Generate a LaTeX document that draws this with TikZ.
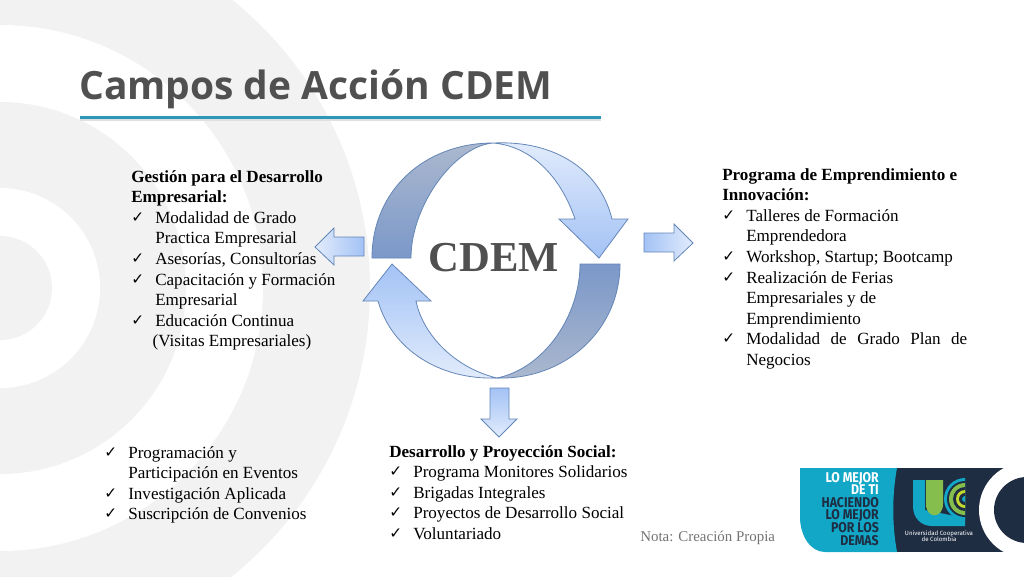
\documentclass[tikz,border=0pt]{standalone}
\usepackage{fontspec}
\setmainfont{Liberation Serif}
\newfontfamily\titlefont{Open Sans}
\newfontfamily\chkfont{DejaVu Sans}
\newfontfamily\logofont{Fira Sans}
\newcommand{\chkline}[1]{\makebox[18pt][l]{\raisebox{.8pt}{\chkfont\fontsize{11.5}{11.5}\selectfont ✓}}#1}
\newcommand{\indline}[1]{\hspace*{18pt}#1}
\definecolor{ringgray}{HTML}{F2F2F2}
\definecolor{titlegray}{HTML}{505050}
\definecolor{rulecyan}{HTML}{2B98B8}
\definecolor{edgeblue}{HTML}{6486B8}
\definecolor{lightblue}{HTML}{E2ECFC}
\definecolor{midblue}{HTML}{A3C2F5}
\definecolor{darkblue}{HTML}{7B98C9}
\definecolor{dullblue}{HTML}{ABB8CE}
\definecolor{logocyan}{HTML}{12A7C7}
\definecolor{logonavy}{HTML}{1E2D42}
\definecolor{logogreen}{HTML}{86BE4E}
\definecolor{logolime}{HTML}{C4D82E}
\tikzset{
  listnode/.style={anchor=north west, inner sep=0pt, align=left, font=\fontsize{12.8}{15.45}\selectfont},
  blockarrow/.style={draw=edgeblue, line width=0.6pt, line join=miter},
  darkarc/.style={blockarrow, bottom color=darkblue, top color=dullblue},
  lightarc/.style={blockarrow, bottom color=midblue, top color=lightblue}
}
\begin{document}
\begin{tikzpicture}[x=0.75pt, y=-0.75pt]
  \useasboundingbox (0,0) rectangle (1024,576);
  % background rings
  \begin{scope}
    \clip (0,0) rectangle (1024,576);
    \foreach \rad/\col in {370/ringgray, 263/white, 186/ringgray, 100/white, 52/ringgray}
      \fill[\col] (0,288) circle (\rad);
  \end{scope}
  % title
  \node[anchor=base west, inner sep=0pt, text=titlegray, font=\titlefont\bfseries\fontsize{29.2}{31}\selectfont] (title) at (79,99) {Campos de Acción CDEM};
  \fill[black!12] (80,118.5) rectangle (601,121);
  \fill[rulecyan] (80,116) rectangle (601,119);
  % cycle
  \path[darkarc] (372,258) .. controls (372,190) and (425,143) .. (493,143)
    .. controls (455,146) and (411,205) .. (411,258) -- cycle;
  \path[lightarc] (493,143) .. controls (555,140) and (600,170) .. (612,219)
    -- (628,219) -- (599,258) -- (559,219) -- (575,219)
    .. controls (560,175) and (530,146) .. (493,143) -- cycle;
  \path[blockarrow, bottom color=dullblue, top color=darkblue] (620,264) .. controls (620,330) and (565,380) .. (497,378)
    .. controls (545,368) and (580,315) .. (580,264) -- cycle;
  \path[blockarrow, bottom color=lightblue, top color=midblue] (497,378) .. controls (440,380) and (392,350) .. (378,301)
    -- (363,301) -- (392,264) -- (431,301) -- (416,301)
    .. controls (423,335) and (455,368) .. (497,378) -- cycle;
  \node[text=titlegray, inner sep=0pt, font=\bfseries\fontsize{32}{34}\selectfont] (cdem) at (494,258) {CDEM};
  % small arrows
  \path[blockarrow, left color=lightblue, right color=midblue] (315,247) -- (334,228) -- (334,237) -- (364,237)
    -- (364,256) -- (334,256) -- (334,265) -- cycle;
  \path[blockarrow, left color=midblue, right color=lightblue] (693,243) -- (674,224) -- (674,233) -- (644,233)
    -- (644,252) -- (674,252) -- (674,261) -- cycle;
  \path[blockarrow, top color=midblue, bottom color=lightblue] (499,437) -- (481,419) -- (490,419) -- (490,388)
    -- (509,388) -- (509,419) -- (517,419) -- cycle;
  % lists
  \node[listnode] (gestion) at (131,170) {\textbf{Gestión para el Desarrollo}\\
    \textbf{Empresarial:}\\
    \chkline{Modalidad de Grado}\\
    \indline{Practica Empresarial}\\
    \chkline{Asesorías, Consultorías}\\
    \chkline{Capacitación y Formación}\\
    \indline{Empresarial}\\
    \chkline{Educación Continua}\\
    \hspace*{16pt}(Visitas Empresariales)};
  \node[listnode] (programa) at (722,168) {\textbf{Programa de Emprendimiento e}\\
    \textbf{Innovación:}\\
    \chkline{Talleres de Formación}\\
    \indline{Emprendedora}\\
    \chkline{Workshop, Startup; Bootcamp}\\
    \chkline{Realización de Ferias}\\
    \indline{Empresariales y de}\\
    \indline{Emprendimiento}\\
    \chkline{\makebox[165.75pt][s]{Modalidad\hfill de\hfill Grado\hfill Plan\hfill de}}\\
    \indline{Negocios}};
  \node[listnode] (eventos) at (104,446) {\chkline{Programación y}\\
    \indline{Participación en Eventos}\\
    \chkline{Investigación Aplicada}\\
    \chkline{Suscripción de Convenios}};
  \node[listnode] (social) at (389,445) {\textbf{Desarrollo y Proyección Social:}\\
    \chkline{Programa Monitores Solidarios}\\
    \chkline{Brigadas Integrales}\\
    \chkline{Proyectos de Desarrollo Social}\\
    \chkline{Voluntariado}};
  \node[anchor=base west, inner sep=0pt, text=black!55, font=\fontsize{11.2}{12}\selectfont] (nota) at (640,541) {Nota: Creación Propia};
  % logo
  \fill[logonavy] (890,468) rectangle (1012,552);
  \fill[white] (1027,510) circle (48);
  \begin{scope}
    \clip (960,460) rectangle (1024,560);
    \fill[logonavy] (1027,510) circle (33);
  \end{scope}
  \fill[logocyan] (800,468) -- (897,468) .. controls (892,495) and (892,525) .. (897,552) -- (825,552)
    .. controls (810,552) and (800,535) .. (800,517) -- cycle;
  \node[anchor=east, inner sep=0pt, align=right, xscale=0.87, font=\logofont\bfseries\fontsize{10.6}{9.15}\selectfont] (slogan) at (879,509)
    {\textcolor{white}{LO MEJOR}\\ \textcolor{white}{DE TI}\\ \textcolor{logonavy}{HACIENDO}\\ \textcolor{logonavy}{LO MEJOR}\\ \textcolor{logonavy}{POR LOS}\\ \textcolor{logonavy}{DEMAS}};
  \begin{scope}
    \clip (905,476) rectangle (965,527);
    \fill[logocyan] (913,480) -- (925,480) -- (925,510) -- (965,518) -- (965,526) -- (932,526)
      .. controls (921,526) and (913,518) .. (913,506) -- cycle;
    \fill[logocyan] (965,499) circle (21);
    \fill[logonavy] (965,499) circle (18);
    \fill[logogreen] (965,499) circle (16);
    \fill[logonavy] (965,499) circle (12);
    \fill[logolime] (965,499) circle (9);
    \fill[logonavy] (965,499) circle (6);
    \fill[logocyan] (965,499) circle (3);
  \end{scope}
  \fill[logogreen] (926,480) -- (943,480) -- (943,504) .. controls (943,519) and (926,519) .. (926,504) -- cycle;
  \node[text=white, inner sep=0pt, align=center, font=\logofont\fontsize{4.6}{5}\selectfont] (ucc) at (939,536) {Universidad Cooperativa\\de Colombia};
\end{tikzpicture}
\end{document}
